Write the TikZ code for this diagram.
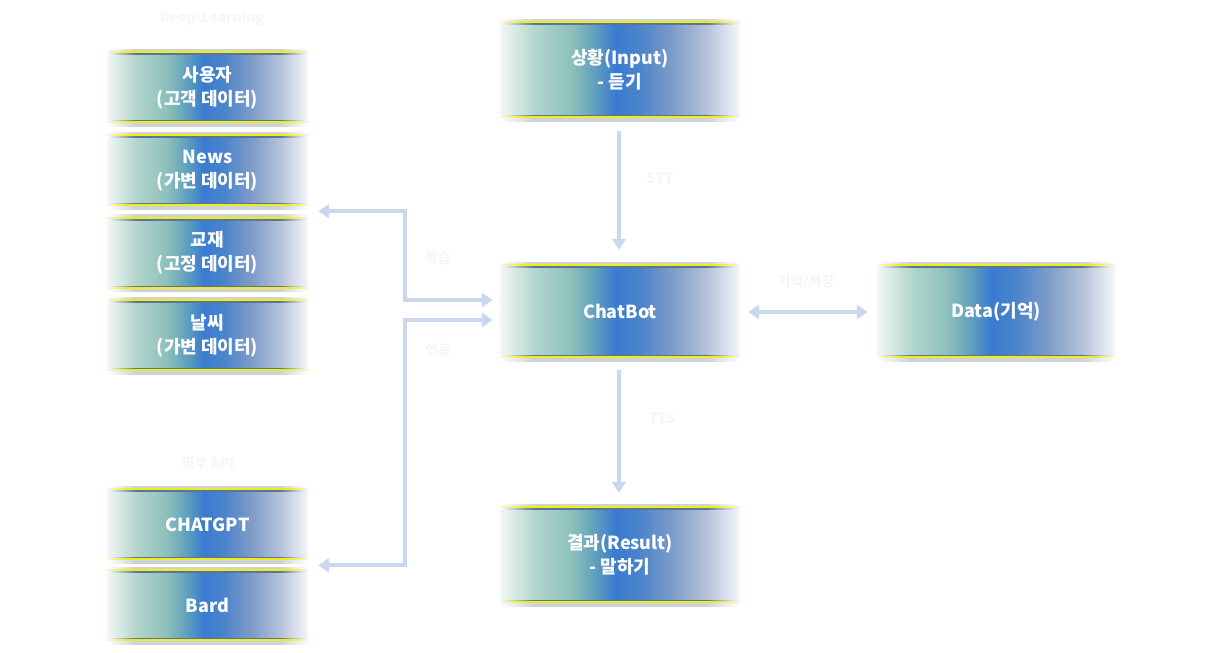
\documentclass[tikz,border=0pt]{standalone}
\usepackage{fontspec}
\newfontfamily\kr{Noto Sans CJK KR}
\usetikzlibrary{arrows.meta}
\definecolor{s0}{HTML}{F3F8F5}
\definecolor{s1}{HTML}{DCECE6}
\definecolor{s2}{HTML}{B2D5CC}
\definecolor{s3}{HTML}{8CBFBB}
\definecolor{s4}{HTML}{5E9EBE}
\definecolor{s5}{HTML}{3A7BD0}
\definecolor{s6}{HTML}{4A84CB}
\definecolor{s7}{HTML}{7F9CC8}
\definecolor{s8}{HTML}{B4C2D8}
\definecolor{s9}{HTML}{F6F7FA}
\definecolor{yl}{HTML}{EEEE10}
\definecolor{ylend}{HTML}{F6F6D8}
\definecolor{dk}{HTML}{5A73A0}
\definecolor{gr}{HTML}{CDD2DA}
\definecolor{arrc}{HTML}{CAD8EF}
\definecolor{labc}{HTML}{F5F6F9}
\pgfdeclarehorizontalshading{boxshade}{100bp}{color(0bp)=(s0); color(25bp)=(s0); color(27.5bp)=(s1); color(32.5bp)=(s2); color(40bp)=(s3); color(45bp)=(s4); color(49bp)=(s5); color(54bp)=(s6); color(61bp)=(s7); color(68bp)=(s8); color(75bp)=(s9); color(100bp)=(s9)}
\pgfdeclarehorizontalshading{yline}{100bp}{color(0bp)=(ylend); color(25bp)=(ylend); color(30bp)=(yl); color(70bp)=(yl); color(75bp)=(ylend); color(100bp)=(ylend)}
\pgfdeclarehorizontalshading{dline}{100bp}{color(0bp)=(white); color(25bp)=(white); color(32bp)=(dk); color(68bp)=(dk); color(75bp)=(white); color(100bp)=(white)}
\pgfdeclarehorizontalshading{gline}{100bp}{color(0bp)=(white); color(25bp)=(white); color(32bp)=(gr); color(68bp)=(gr); color(75bp)=(white); color(100bp)=(white)}
\tikzset{
  box/.style={shade, shading=boxshade, inner sep=0pt, text=white, align=center,
    font=\kr\bfseries\fontsize{18}{24}\selectfont,
    path picture={
      \shade[shading=gline] ([shift={(0,0)}]path picture bounding box.north west) rectangle ([shift={(0,2.5)}]path picture bounding box.north east);
      \shade[shading=yline] ([shift={(0,2.5)}]path picture bounding box.north west) rectangle ([shift={(0,4.5)}]path picture bounding box.north east);
      \shade[shading=dline] ([shift={(0,4.5)}]path picture bounding box.north west) rectangle ([shift={(0,5.5)}]path picture bounding box.north east);
      \shade[shading=dline] ([shift={(0,-5.5)}]path picture bounding box.south west) rectangle ([shift={(0,-4.5)}]path picture bounding box.south east);
      \shade[shading=yline] ([shift={(0,-4.5)}]path picture bounding box.south west) rectangle ([shift={(0,-2.5)}]path picture bounding box.south east);
      \shade[shading=gline] ([shift={(0,-2.5)}]path picture bounding box.south west) rectangle ([shift={(0,0)}]path picture bounding box.south east);
    }},
  leftbox/.style={box, minimum width=201pt, minimum height=77pt},
  midbox/.style={box, minimum width=240pt, minimum height=100pt},
  arr/.style={draw=arrc, line width=4pt, {Triangle[width=14pt,length=11pt]}-{Triangle[width=14pt,length=11pt]}},
  arr1/.style={draw=arrc, line width=4pt, -{Triangle[width=14pt,length=11pt]}},
  lab/.style={text=labc, font=\kr\bfseries\fontsize{14}{16}\selectfont, inner sep=1pt}
}
\begin{document}
\begin{tikzpicture}[x=1pt,y=-1pt]
\useasboundingbox (0,0) rectangle (1218,653);
\node[lab] (dl) at (212,18) {Deep-Learning};
\node[leftbox] (user) at (207.5,87.5) {사용자\\(고객 데이터)};
\node[leftbox] (news) at (207.5,170.5) {News\\(가변 데이터)};
\node[leftbox] (book) at (207.5,253) {교재\\(고정 데이터)};
\node[leftbox] (weather) at (207.5,335.5) {날씨\\(가변 데이터)};
\node[lab] (api) at (208,463) {외부 API};
\node[leftbox] (gpt) at (207.5,524.5) {CHATGPT};
\node[leftbox] (bard) at (207.5,605.5) {Bard};
\node[midbox, minimum height=102pt] (input) at (620,70) {상황(Input)\\- 듣기};
\node[midbox, minimum height=99pt] (bot) at (620,311.5) {ChatBot};
\node[midbox, minimum height=102pt] (result) at (620,555) {결과(Result)\\- 말하기};
\node[midbox, minimum width=238pt, minimum height=99pt] (data) at (996,311.5) {Data(기억)};
\draw[arr1] ([shift={(-1,10)}]input.south) -- ([shift={(-1,-12)}]bot.north);
\draw[arr1] ([shift={(-1,9)}]bot.south) -- ([shift={(-1,-11)}]result.north);
\draw[arr] ([shift={(8,0.5)}]bot.east) -- ([shift={(-9,0.5)}]data.west);
\draw[arr] ([shift={(10,2)}]news.south east) -| ([shift={(-95,-11.5)}]bot.west) -- ([shift={(-7,-11.5)}]bot.west);
\draw[arr] ([shift={(10,2)}]gpt.south east) -| ([shift={(-95,8.5)}]bot.west) -- ([shift={(-7,8.5)}]bot.west);
\node[lab] (stt) at (660,178) {STT};
\node[lab] (tts) at (662,418) {TTS};
\node[lab] (mem) at (806,282) {기억/저장};
\node[lab] (learn) at (438,258) {학습};
\node[lab] (link) at (438,350) {연동};
\end{tikzpicture}
\end{document}
